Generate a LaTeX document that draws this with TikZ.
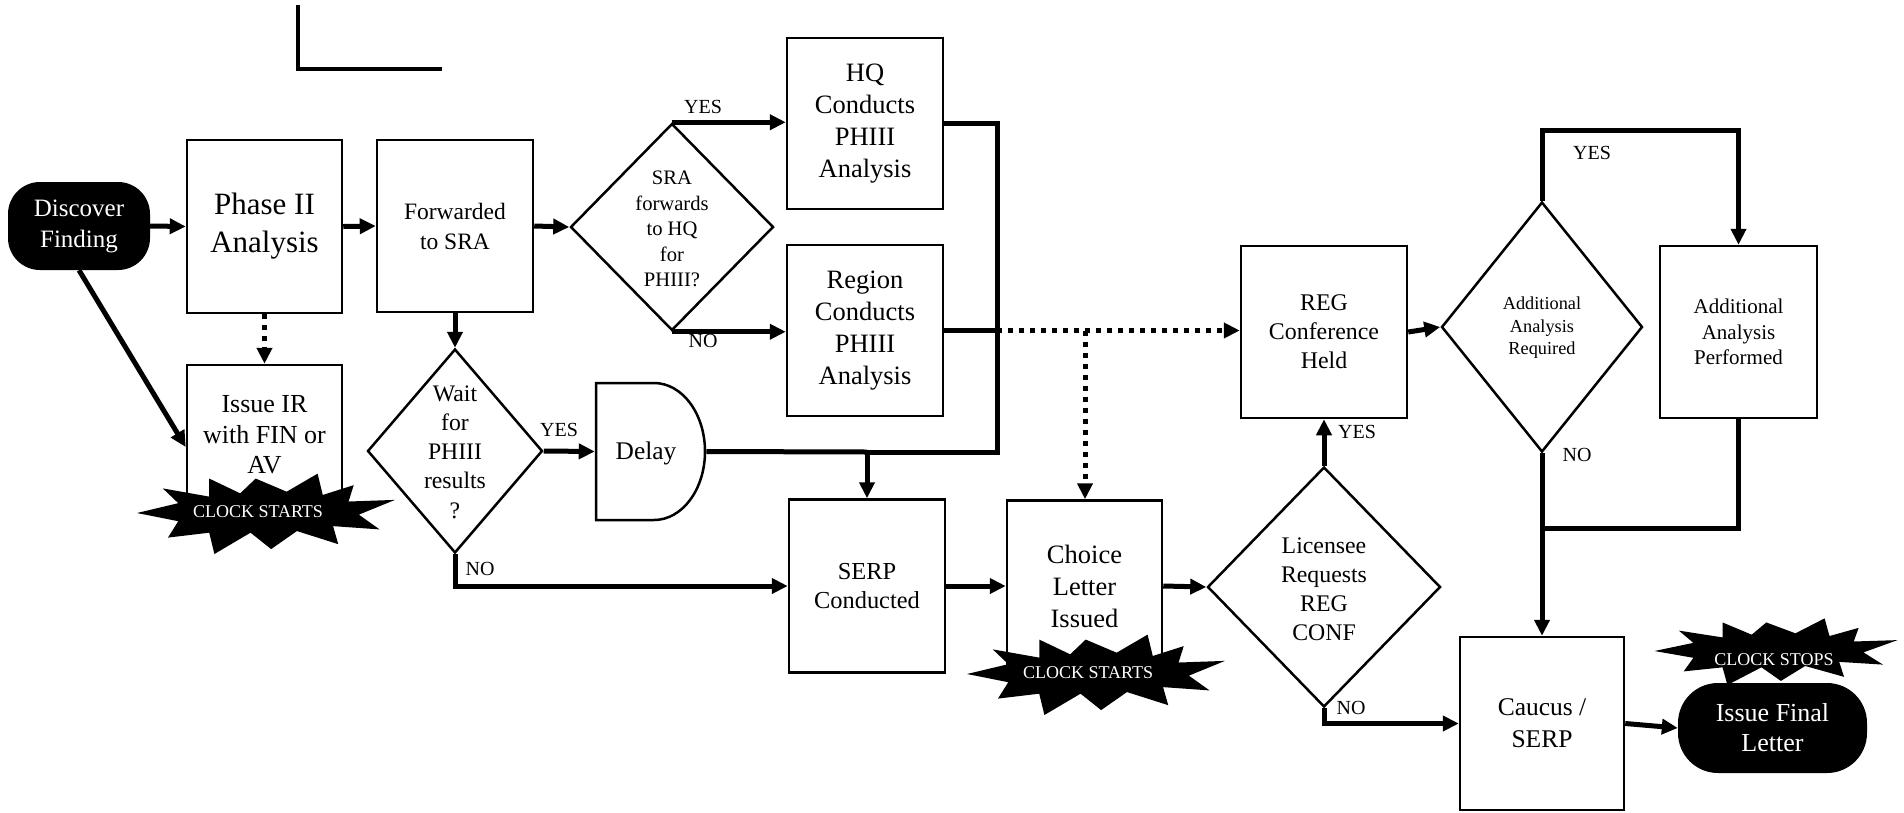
\documentclass[tikz,border=0pt]{standalone}
\usepackage{fontspec}
\setmainfont{Liberation Serif}
\usetikzlibrary{arrows.meta,shapes.geometric,calc}
\tikzset{
  burst/.pic={\fill[black] (-0.5,0) -- (-0.34,-0.12) -- (-0.40,-0.30) -- (-0.22,-0.20) -- (-0.22,-0.42) -- (-0.10,-0.24) -- (-0.04,-0.42) -- (0.08,-0.26) -- (0.20,-0.48) -- (0.22,-0.22) -- (0.34,-0.34) -- (0.32,-0.14) -- (0.5,-0.16) -- (0.36,0.02) -- (0.44,0.20) -- (0.26,0.16) -- (0.28,0.38) -- (0.12,0.22) -- (0.02,0.44) -- (-0.06,0.24) -- (-0.20,0.5) -- (-0.22,0.24) -- (-0.38,0.30) -- (-0.34,0.10) -- cycle;}
}
\begin{document}
\begin{tikzpicture}[x=1pt,y=-1pt,
  box/.style={draw, line width=2.5pt, inner sep=0pt, align=center},
  dia/.style={draw, diamond, line width=2.5pt, inner sep=0pt},
  txt/.style={inner sep=0pt, align=center},
  conn/.style={line width=5pt, -{Triangle[length=16pt,width=15pt]}},
  dconn/.style={line width=5pt, dash pattern=on 5pt off 6pt, -{Triangle[length=16pt,width=15pt]}},
  trunk/.style={line width=5pt},
  lbl/.style={inner sep=0pt, font=\fontsize{20}{24}\selectfont},
  term/.style={fill=black, text=white, inner sep=0pt, align=center},
  bursttext/.style={inner sep=0pt, text=white, font=\fontsize{18}{21}\selectfont}
]
\useasboundingbox (0,0) rectangle (1904,812);

% top-left stray line
\coordinate (la) at (298,5);
\coordinate (lb) at (298,69);
\coordinate (lc) at (442,69);
\draw[line width=4.5pt] (la) -- (lb) -- (lc);

% nodes
\node[term, rounded corners=32pt, minimum width=142pt, minimum height=88pt, font=\fontsize{25}{31}\selectfont] (disc) at (79,226) {Discover\\Finding};
\node[box, minimum width=155pt, minimum height=173pt, font=\fontsize{31}{38}\selectfont] (phase) at (264.5,226.5) {Phase II\\Analysis};
\node[box, minimum width=156pt, minimum height=172pt, font=\fontsize{23.5}{30}\selectfont] (fwd) at (455,226) {Forwarded\\to SRA};
\node[box, minimum width=155pt, minimum height=140pt, font=\fontsize{26}{30.5}\selectfont] (issue) at (264.5,435) {Issue IR\\with FIN or\\AV};

\node[dia, minimum width=203pt, minimum height=207pt] (sra) at (672,227) {};
\node[txt, font=\fontsize{20.6}{25.5}\selectfont] (sraT) at (672,229) {SRA\\forwards\\to HQ\\for\\PHIII?};
\node[box, minimum width=156pt, minimum height=171pt, font=\fontsize{26.5}{32}\selectfont] (hq) at (865,123.5) {HQ\\Conducts\\PHIII\\Analysis};
\node[box, minimum width=156pt, minimum height=171pt, font=\fontsize{26.5}{32}\selectfont] (region) at (865,330.5) {Region\\Conducts\\PHIII\\Analysis};

\node[dia, minimum width=175pt, minimum height=204pt] (wait) at (455,451) {};
\node[txt, font=\fontsize{23.7}{29.3}\selectfont] (waitT) at (455,452) {Wait\\for\\PHIII\\results\\?};

\node[minimum width=109pt, minimum height=137pt, inner sep=0pt, outer sep=1.25pt] (delay) at (650.5,451.5) {};
\draw[line width=2.5pt] (596,383) -- (654,383) .. controls (682.2,383) and (705,413.7) .. (705,451.5) .. controls (705,489.3) and (682.2,520) .. (654,520) -- (596,520) -- cycle;
\node[txt, font=\fontsize{25.4}{30}\selectfont] (delayT) at (646,453) {Delay};

\node[box, minimum width=156pt, minimum height=173pt, font=\fontsize{24.4}{28.5}\selectfont] (serp) at (867,586) {SERP\\Conducted};
\node[box, minimum width=155pt, minimum height=171pt, font=\fontsize{26.5}{32}\selectfont] (choice) at (1084.5,586) {Choice\\Letter\\Issued};
\node[dia, minimum width=233pt, minimum height=240pt] (lic) at (1324,587) {};
\node[txt, font=\fontsize{23.8}{29}\selectfont] (licT) at (1324,589) {Licensee\\Requests\\REG\\CONF};
\node[box, minimum width=166pt, minimum height=172pt, font=\fontsize{23.9}{29}\selectfont] (reg) at (1324,332) {REG\\Conference\\Held};
\node[dia, minimum width=201pt, minimum height=250pt] (addreq) at (1542,327) {};
\node[txt, font=\fontsize{18.3}{22.5}\selectfont] (addreqT) at (1542,328) {Additional\\Analysis\\Required};
\node[box, minimum width=157pt, minimum height=172pt, font=\fontsize{21}{25.5}\selectfont] (addperf) at (1738.5,332) {Additional\\Analysis\\Performed};
\node[box, minimum width=164pt, minimum height=173pt, font=\fontsize{25.5}{32}\selectfont] (caucus) at (1542,723.5) {Caucus /\\SERP};

% connectors
\draw[conn] (disc.east) -- (phase.west);
\draw[conn] (phase.east) -- (fwd.west);
\draw[conn] (fwd.east) -- (sra.west);
\draw[conn] (sra.north) -- (sra.north -| hq.west);
\draw[conn] (sra.south) -- (sra.south -| region.west);
\draw[dconn] (phase.south) -- (issue.north);
\draw[conn] (disc.south) -- ($(issue.west)+(0,12)$);
\draw[conn] (fwd.south) -- (wait.north);
\draw[conn] (wait.east) -- (delay.west);
\draw[conn] (wait.south) |- (serp.west);
\coordinate (j1) at (997,452);
\coordinate (j2) at (867,452);
\draw[trunk] (hq.east) -| (j1) -- (j2);
\draw[trunk] (delay.east) -- (j2);
\draw[conn] (j2) -- (serp.north);
\coordinate (j3) at (997,330.5);
\draw[trunk] (region.east) -- (j3);
\draw[dconn] (j3) -- (j3 -| reg.west);
\coordinate (j4) at (1085,330.5);
\draw[dconn] (j4) -- (j4 |- choice.north);
\draw[conn] (serp.east) -- (choice.west);
\draw[conn] (choice.east) -- (lic.west);
\draw[conn] (lic.north) -- (reg.south);
\draw[conn] (reg.east) -- (addreq.west);
\coordinate (ytop) at (1738.5,130);
\draw[conn] (addreq.north) |- (ytop) -- (addperf.north);
\coordinate (jn) at (1542,528);
\draw[trunk] (addperf.south) |- (jn);
\draw[conn] (addreq.south) -- (caucus.north);
\draw[conn] (lic.south) |- (caucus.west);

% labels
\node[lbl] (l1) at (703,107) {YES};
\node[lbl] (l2) at (703,341) {NO};
\node[lbl] (l3) at (559,430) {YES};
\node[lbl] (l4) at (480,569) {NO};
\node[lbl] (l5) at (1357,432) {YES};
\node[lbl] (l6) at (1351,708) {NO};
\node[lbl] (l7) at (1592,153) {YES};
\node[lbl] (l8) at (1577,455) {NO};

% bursts
\pic[xscale=258,yscale=82] at (266,513) {burst};
\pic[xscale=258,yscale=82] at (1096,674) {burst};
\pic[xscale=243,yscale=68] at (1776,651) {burst};
\node[term, rounded corners=40pt, minimum width=189pt, minimum height=90pt, font=\fontsize{26}{30}\selectfont] (final) at (1772.5,728) {Issue Final\\Letter};
\draw[conn] (caucus.east) -- (final.west);
\node[bursttext] (b1T) at (258,512) {CLOCK STARTS};
\node[bursttext] (b2T) at (1088,673) {CLOCK STARTS};
\node[bursttext] (b3T) at (1774,660) {CLOCK STOPS};
\end{tikzpicture}
\end{document}
